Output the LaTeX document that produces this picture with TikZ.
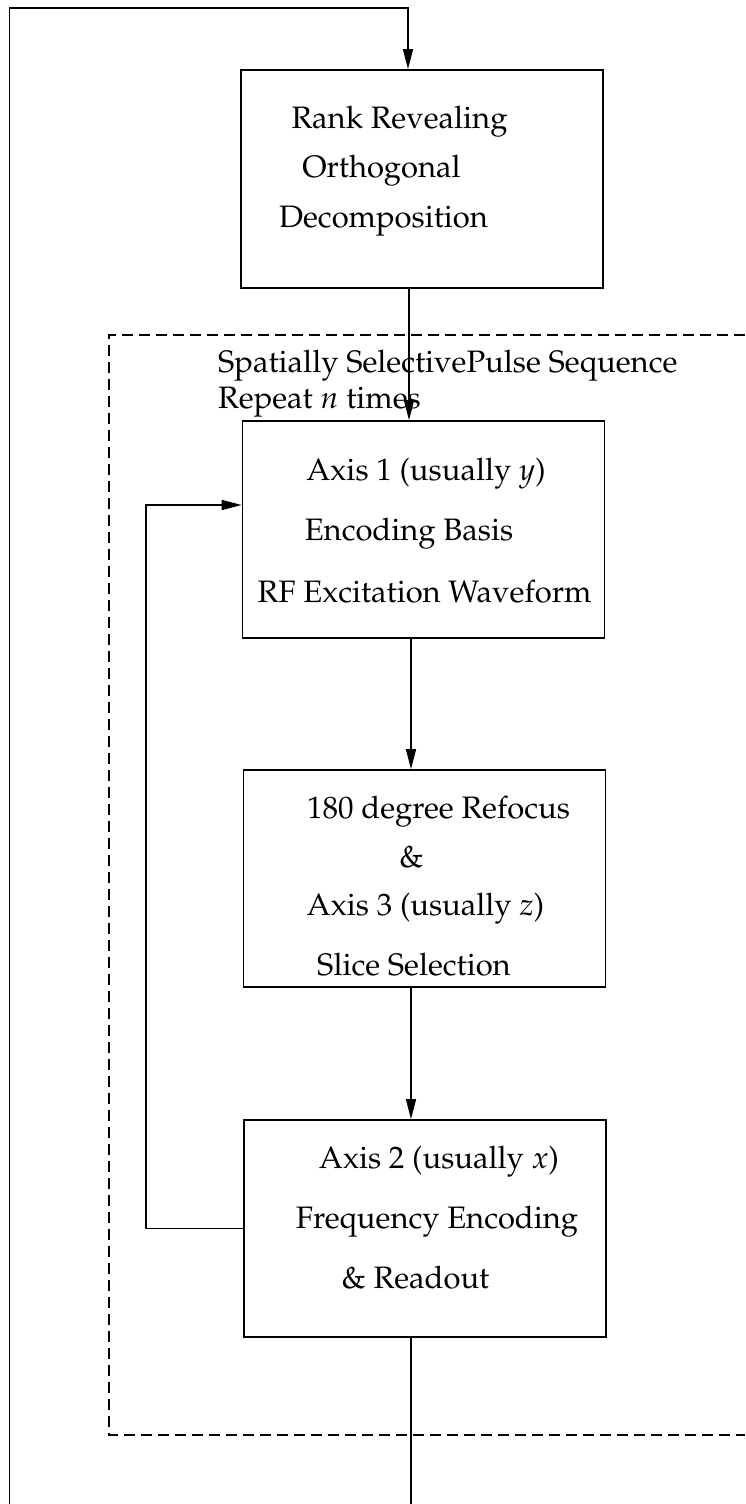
\documentclass[tikz,border=0pt]{standalone}
\usepackage[T1]{fontenc}
\usepackage{mathpazo}
\usetikzlibrary{arrows.meta,calc}
\begin{document}
\begin{tikzpicture}[x=1pt,y=-1pt,
  box/.style={draw,line width=1.6pt,inner sep=0pt,minimum width=362pt,minimum height=217pt},
  txt/.style={inner sep=0pt,anchor=base,font=\fontsize{31}{37}\selectfont},
  lbl/.style={inner sep=0pt,anchor=base west,font=\fontsize{31}{37}\selectfont},
  conn/.style={line width=1.3pt},
  arr/.style={line width=1.3pt,-{Triangle[length=20pt,width=10pt]}},
  dashbox/.style={line width=1.3pt,dash pattern=on 11pt off 6pt}]
\useasboundingbox (0,0) rectangle (745,1504);
% boxes
\node[box,minimum height=218pt] (b1) at (422,179) {};
\node[box] (b2) at (423.5,529.5) {};
\node[box] (b3) at (424.5,878.5) {};
\node[box] (b4) at (425,1228.5) {};
% texts
\node[txt] (t1a) at (399.5,128) {Rank Revealing};
\node[txt] (t1b) at (381.5,177) {Orthogonal};
\node[txt] (t1c) at (383.5,227) {Decomposition};
\node[lbl] (l1) at (218,372) {Spatially SelectivePulse Sequence};
\node[lbl] (l2) at (218,408) {Repeat $n$ times};
\node[txt] (t2a) at (426,480) {Axis 1 (usually $y$)};
\node[txt] (t2b) at (409,540) {Encoding Basis};
\node[txt] (t2c) at (424.5,602) {RF Excitation Waveform};
\node[txt] (t3a) at (438.5,818) {180 degree Refocus};
\node[txt] (t3b) at (411.5,867) {\&};
\node[txt] (t3c) at (425.5,915) {Axis 3 (usually $z$)};
\node[txt] (t3d) at (414,975) {Slice Selection};
\node[txt] (t4a) at (439,1168) {Axis 2 (usually $x$)};
\node[txt] (t4b) at (437,1228) {Frequency Encoding};
\node[txt] (t4c) at (415.5,1288) {\& Readout};
% dashed region
\draw[dashbox] (745,335) -- (109,335) -- (109,1435) -- (745,1435);
% helper coordinates
\coordinate (ax) at (409,0);
\coordinate (axb) at (411,0);
\coordinate (lb) at (9.5,1504);
\coordinate (lt) at (9.5,8);
\coordinate (bot) at (411,1504);
\coordinate (fb) at (146,505);
% connectors
\draw[arr] (lb) -- (lt) -| ($(b1.north -| ax)+(-1,0)$);
\draw[arr] (b1.south -| ax) -- (b2.north -| ax);
\draw[arr] (b2.south -| axb) -- (b3.north -| axb);
\draw[arr] (b3.south -| axb) -- (b4.north -| axb);
\draw[conn] (b4.south -| axb) -- (bot);
\draw[arr] (b4.west) -- (b4.west -| fb) -- (fb) -- (fb -| b2.west);
\end{tikzpicture}
\end{document}
